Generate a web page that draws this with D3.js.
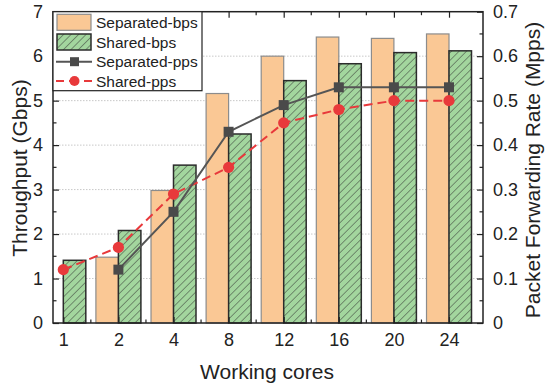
<!DOCTYPE html>
<html><head><meta charset="utf-8">
<script src="https://cdn.jsdelivr.net/npm/d3@7"></script>
<style>body{margin:0;background:#fff}svg{display:block}text{font-family:"Liberation Sans",Arial,sans-serif;fill:#222}</style>
</head><body><svg id="c" width="547" height="385"></svg>
<script>
const categories = ["1","2","4","8","12","16","20","24"];
const separatedBps = [null,1.48,2.98,5.16,6.0,6.43,6.40,6.50];
const sharedBps = [1.41,2.08,3.55,4.25,5.45,5.83,6.08,6.12];
const separatedPps = [null,0.12,0.25,0.43,0.49,0.53,0.53,0.53];
const sharedPps = [0.12,0.17,0.29,0.35,0.45,0.48,0.50,0.50];
const leftTicks = [0,1,2,3,4,5,6,7];
const rightTicks = [0,0.1,0.2,0.3,0.4,0.5,0.6,0.7];

const svg = d3.select("#c");
const L=53, R=483, T=11.7, B=323;
const x = d3.scaleLinear().domain([-0.187, 7.617]).range([L,R]);
const y = d3.scaleLinear().domain([0,7]).range([B,T]);
const y2 = d3.scaleLinear().domain([0,0.7]).range([B,T]);
const bw = 22.5;

const defs = svg.append("defs");
const pw = 5.3;
const pat = defs.append("pattern").attr("id","hatch").attr("patternUnits","userSpaceOnUse")
  .attr("width",pw).attr("height",pw).attr("patternTransform","rotate(45)");
pat.append("rect").attr("width",pw).attr("height",pw).attr("fill","#A3D69E");
pat.append("line").attr("x1",0).attr("y1",0).attr("x2",0).attr("y2",pw).attr("stroke","#2e2e2e").attr("stroke-width",0.9);

// grid
svg.append("g").selectAll("line").data(leftTicks.slice(1,7)).join("line")
  .attr("x1",L).attr("x2",R).attr("y1",d=>y(d)).attr("y2",d=>y(d))
  .attr("stroke","#c8c8c8").attr("stroke-width",1).attr("stroke-dasharray","1.5,1.5");

// bars
const idx = d3.range(categories.length);
svg.append("g").selectAll("rect").data(idx.filter(i=>separatedBps[i]!=null)).join("rect")
  .attr("x",i=>x(i)-bw).attr("width",bw).attr("y",i=>y(separatedBps[i])).attr("height",i=>B-y(separatedBps[i]))
  .attr("fill","#FAC895").attr("stroke","#8c8c8c").attr("stroke-width",1.2);
svg.append("g").selectAll("rect").data(idx).join("rect")
  .attr("x",i=>x(i)).attr("width",bw).attr("y",i=>y(sharedBps[i])).attr("height",i=>B-y(sharedBps[i]))
  .attr("fill","url(#hatch)").attr("stroke","#2b2b2b").attr("stroke-width",1.5);

// lines
const lineSep = d3.line().defined(i=>separatedPps[i]!=null).x(i=>x(i)).y(i=>y2(separatedPps[i]));
const lineSh = d3.line().x(i=>x(i)).y(i=>y2(sharedPps[i]));
svg.append("path").attr("d",lineSh(idx)).attr("fill","none").attr("stroke","#E8393B").attr("stroke-width",2).attr("stroke-dasharray","9,5");
svg.append("path").attr("d",lineSep(idx)).attr("fill","none").attr("stroke","#555").attr("stroke-width",2);
svg.append("g").selectAll("rect").data(idx.filter(i=>separatedPps[i]!=null)).join("rect")
  .attr("x",i=>x(i)-5).attr("y",i=>y2(separatedPps[i])-5).attr("width",10).attr("height",10).attr("fill","#4a4a4a");
svg.append("g").selectAll("circle").data(idx).join("circle")
  .attr("cx",i=>x(i)).attr("cy",i=>y2(sharedPps[i])).attr("r",5.6).attr("fill","#E8393B");

// axes
const axL = d3.axisLeft(y).tickValues(leftTicks).tickSize(-6).tickPadding(10).tickFormat(d3.format("d"));
const axR = d3.axisRight(y2).tickValues(rightTicks).tickSize(-6).tickPadding(10).tickFormat(d=>d===0?"0":d3.format(".1f")(d));
const axB = d3.axisBottom(x).tickValues(idx).tickSize(-6).tickPadding(10).tickFormat(i=>categories[i]);
const axT = d3.axisTop(x).tickValues(idx).tickSize(-6).tickFormat("");
function style(g){g.select(".domain").remove();g.selectAll(".tick line").attr("stroke","#222").attr("stroke-width",1.2);g.selectAll("text").attr("font-size",18).attr("fill","#222");}
svg.append("g").attr("transform",`translate(${L},0)`).call(axL).call(style);
svg.append("g").attr("transform",`translate(${R},0)`).call(axR).call(style);
svg.append("g").attr("transform",`translate(0,${B})`).call(axB).call(style);
svg.append("g").attr("transform",`translate(0,${T})`).call(axT).call(style);
// minor ticks
const minorY = d3.range(0.5,7,1), minorX = d3.range(0.5,7.5,1);
const mg = svg.append("g").attr("stroke","#222").attr("stroke-width",1.2);
minorY.forEach(v=>{mg.append("line").attr("x1",L).attr("x2",L+3.5).attr("y1",y(v)).attr("y2",y(v));
  mg.append("line").attr("x1",R).attr("x2",R-3.5).attr("y1",y(v)).attr("y2",y(v));});
minorX.forEach(v=>{mg.append("line").attr("x1",x(v)).attr("x2",x(v)).attr("y1",B).attr("y2",B-3.5);
  mg.append("line").attr("x1",x(v)).attr("x2",x(v)).attr("y1",T).attr("y2",T+3.5);});

svg.append("rect").attr("x",L).attr("y",T).attr("width",R-L).attr("height",B-T).attr("fill","none").attr("stroke","#222").attr("stroke-width",1.5);

// titles
svg.append("text").attr("x",267).attr("y",379).attr("text-anchor","middle").attr("font-size",21).text("Working cores");
svg.append("text").attr("transform","translate(27,168) rotate(-90)").attr("text-anchor","middle").attr("font-size",21).text("Throughput (Gbps)");
svg.append("text").attr("transform","translate(540,170) rotate(-90)").attr("text-anchor","middle").attr("font-size",21).text("Packet Forwarding Rate (Mpps)");

// legend
const lg = svg.append("g");
lg.append("rect").attr("x",L).attr("y",T).attr("width",149).attr("height",79).attr("fill","#fff").attr("stroke","#222").attr("stroke-width",1.2);
const names = ["Separated-bps","Shared-bps","Separated-pps","Shared-pps"];
const rows = [22.3,42,61.7,81];
lg.append("rect").attr("x",57).attr("y",rows[0]-8).attr("width",34).attr("height",16).attr("fill","#FAC895").attr("stroke","#8c8c8c").attr("stroke-width",1.2);
lg.append("rect").attr("x",57).attr("y",rows[1]-8).attr("width",34).attr("height",16).attr("fill","url(#hatch)").attr("stroke","#2b2b2b").attr("stroke-width",1.5);
lg.append("line").attr("x1",56).attr("x2",92).attr("y1",rows[2]).attr("y2",rows[2]).attr("stroke","#555").attr("stroke-width",2);
lg.append("rect").attr("x",70).attr("y",rows[2]-4.5).attr("width",9).attr("height",9).attr("fill","#4a4a4a");
lg.append("line").attr("x1",56).attr("x2",92).attr("y1",rows[3]).attr("y2",rows[3]).attr("stroke","#E8393B").attr("stroke-width",2).attr("stroke-dasharray","8,5,10,5,8");
lg.append("circle").attr("cx",74.5).attr("cy",rows[3]).attr("r",5).attr("fill","#E8393B");
lg.selectAll("text").data(names).join("text").attr("x",96).attr("y",(d,i)=>rows[i]+5.5).attr("font-size",15.5).text(d=>d);
</script></body></html>
